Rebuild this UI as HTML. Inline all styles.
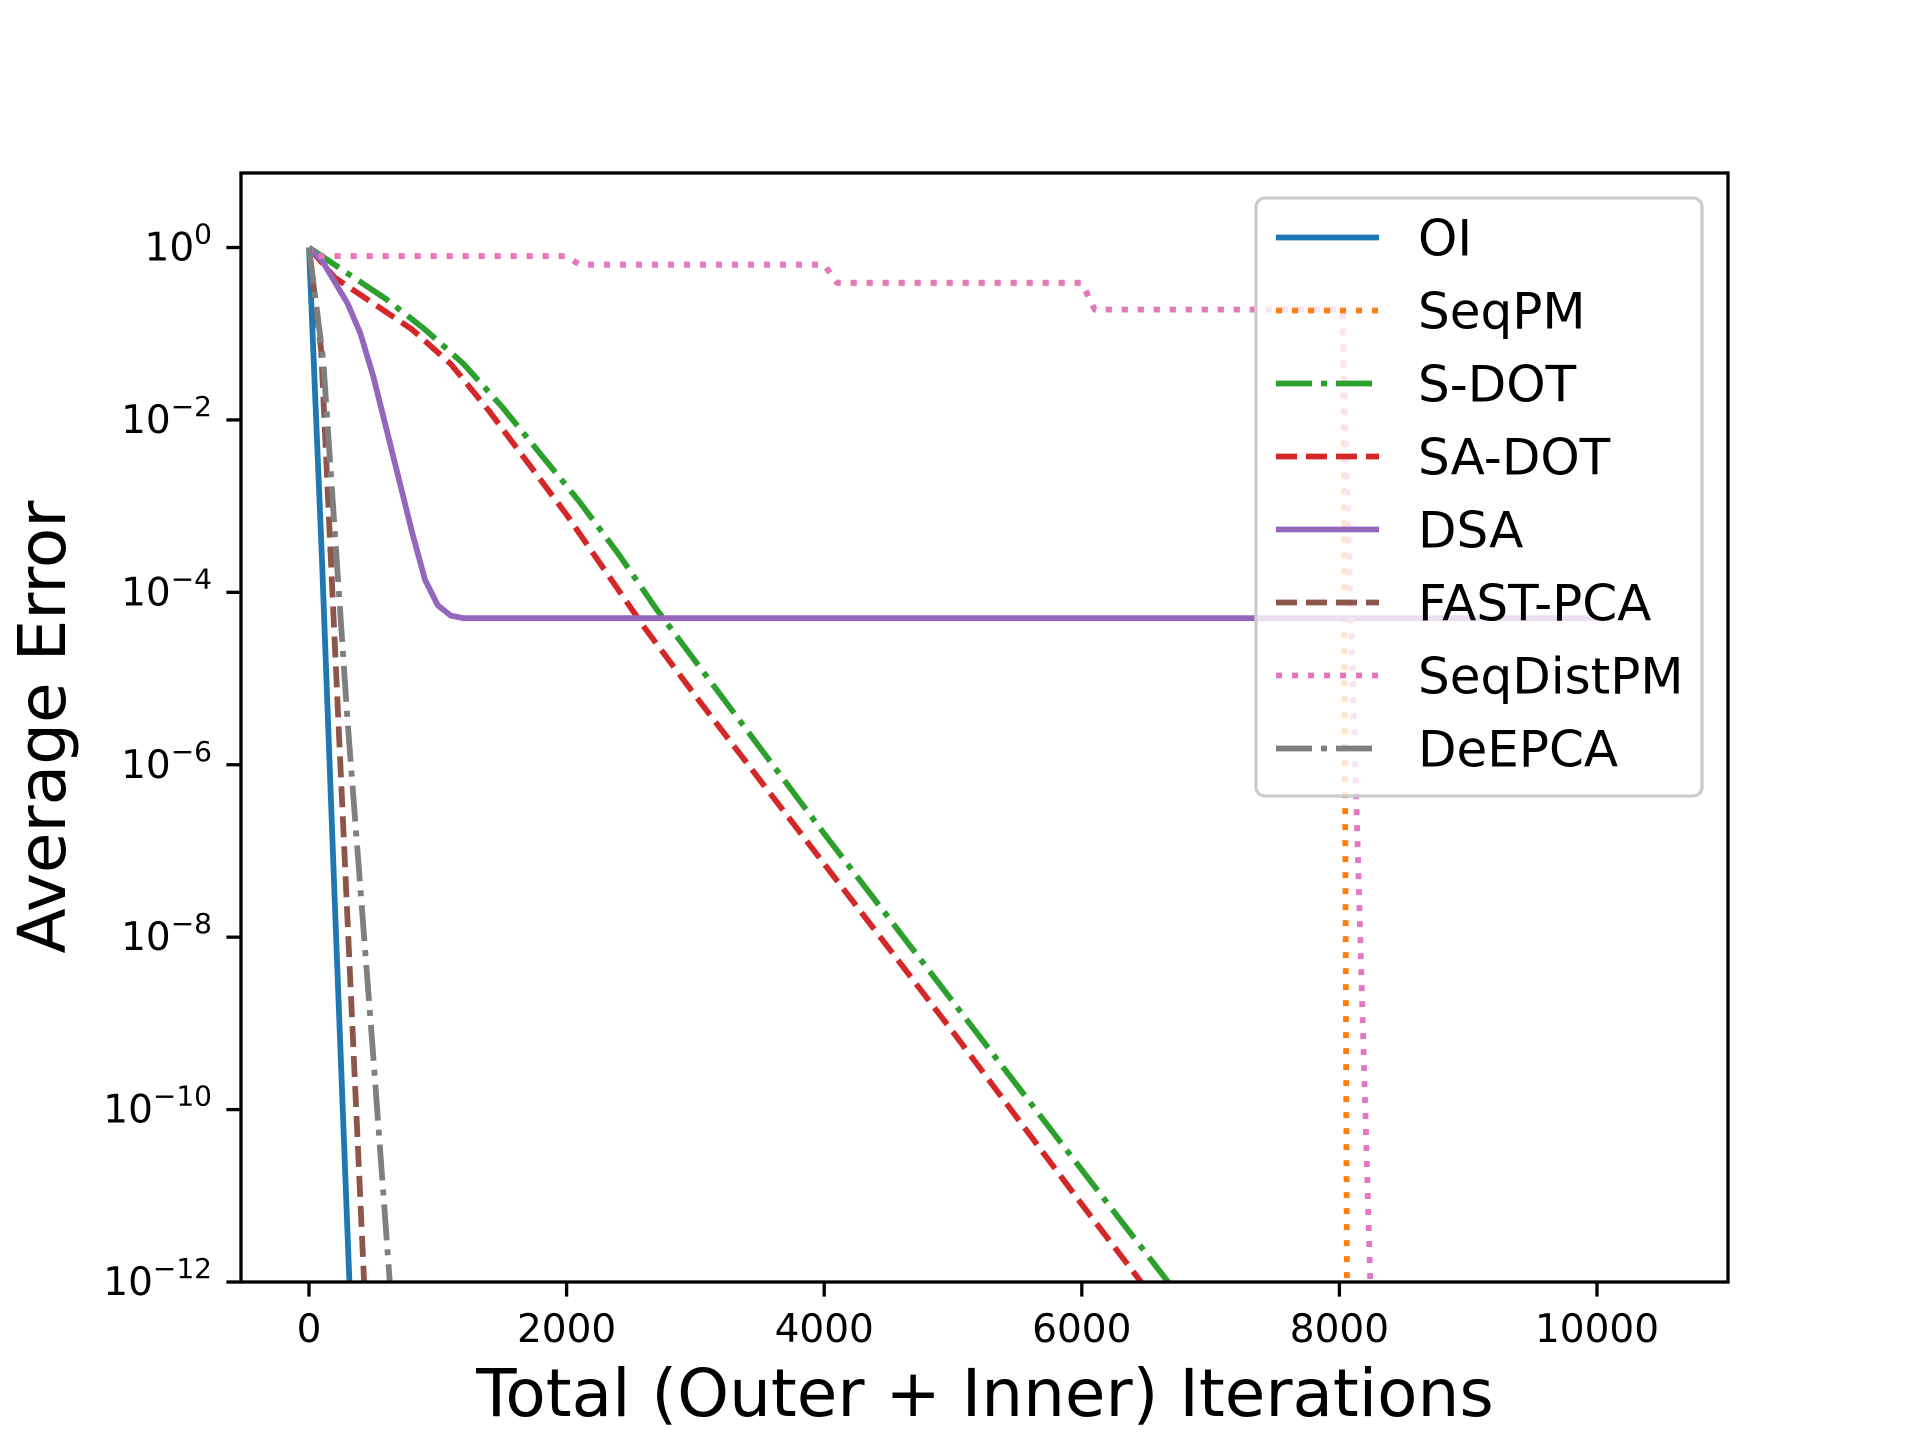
<!DOCTYPE html>
<html><head><meta charset="utf-8"><style>
html,body{margin:0;padding:0;background:#fff;}
svg{display:block;font-family:"DejaVu Sans","Liberation Sans",sans-serif;}
</style></head><body>
<svg id="chart" width="1920" height="1440" viewBox="0 0 1920 1440" xmlns="http://www.w3.org/2000/svg">
<rect width="1920" height="1440" fill="#fff"/>
<g id="plot" clip-path="url(#clip)"></g>
<defs><clipPath id="clip"><rect x="241" y="173" width="1487" height="1109"/></clipPath></defs>
<g id="axes"></g>
<g id="legend"></g>
</svg>
<script>
const xTicks = [0, 2000, 4000, 6000, 8000, 10000];
const yTickExps = [0, -2, -4, -6, -8, -10, -12];
const seriesNames = ["OI","SeqPM","S-DOT","SA-DOT","DSA","FAST-PCA","SeqDistPM","DeEPCA"];
const oiX = [0, 100, 200, 314];
const oiY = [0, -3.6, -7.6, -12];
const seqpmX = [0, 20, 2000, 2100, 4000, 4100, 6000, 6100, 8030, 8060];
const seqpmY = [0, -0.1, -0.1, -0.2, -0.2, -0.41, -0.41, -0.72, -0.72, -12.5];
const sdotX = [0, 300, 600, 900, 1200, 1500, 1800, 2100, 2400, 2700, 3000, 4000, 5000, 6000, 6670];
const sdotY = [0, -0.3, -0.6, -0.95, -1.35, -1.85, -2.4, -2.95, -3.55, -4.2, -4.8, -6.8, -8.75, -10.7, -12];
const sadotX = [0, 200, 500, 800, 1100, 1400, 1700, 2000, 2300, 2600, 3000, 4000, 5000, 6000, 6460];
const sadotY = [0, -0.35, -0.65, -0.95, -1.35, -1.9, -2.5, -3.1, -3.75, -4.4, -5.2, -7.15, -9.1, -11.1, -12];
const dsaX = [0, 100, 200, 300, 400, 500, 600, 700, 800, 900, 1000, 1100, 1200, 10000];
const dsaY = [0, -0.15, -0.4, -0.65, -1.0, -1.5, -2.1, -2.7, -3.3, -3.85, -4.15, -4.27, -4.3, -4.3];
const fastX = [0, 95, 250, 428];
const fastY = [0, -1.2, -6.2, -12];
const seqdistX = [0, 20, 2000, 2100, 4000, 4100, 6000, 6100, 8020, 8240];
const seqdistY = [0, -0.1, -0.1, -0.2, -0.2, -0.41, -0.41, -0.72, -0.72, -12];
const deepcaX = [0, 110, 300, 500, 627];
const deepcaY = [0, -1.3, -5.5, -9.4, -12];

const NS="http://www.w3.org/2000/svg";
const L=241,R=1728,T=173,B=1282;
const xMin=-528, xMax=11017;
const sx=v=>L+(v-xMin)/(xMax-xMin)*(R-L);
const y0=247.5, dec=(B-y0)/12;
const sy=e=>y0-e*dec;
function mk(tag,attrs,parent){const e=document.createElementNS(NS,tag);for(const k in attrs)e.setAttribute(k,attrs[k]);parent.appendChild(e);return e;}
const plot=document.getElementById('plot'), axes=document.getElementById('axes'), leg=document.getElementById('legend');
const lw=5.8;
const styles=[
 {c:"#1f77b4",d:""},{c:"#ff7f0e",d:"6,10"},{c:"#2ca02c",d:"36,9,6,9"},{c:"#d62728",d:"21,9"},
 {c:"#9467bd",d:""},{c:"#8c564b",d:"21,9"},{c:"#e377c2",d:"6,10"},{c:"#7f7f7f",d:"36,9,6,9"}];
const data=[[oiX,oiY],[seqpmX,seqpmY],[sdotX,sdotY],[sadotX,sadotY],[dsaX,dsaY],[fastX,fastY],[seqdistX,seqdistY],[deepcaX,deepcaY]];
const keys=["oi","seqpm","s-dot","sa-dot","dsa","fast-pca","seqdistpm","deepca"];
data.forEach((s,i)=>{
  const pts=s[0].map((x,j)=>sx(x).toFixed(1)+","+sy(s[1][j]).toFixed(1)).join(" ");
  const p=mk('polyline',{points:pts,fill:"none",stroke:styles[i].c,"stroke-width":lw,"stroke-dasharray":styles[i].d,"stroke-linejoin":"round"},plot);
  
  
});
const fr=mk('rect',{x:L,y:T,width:R-L,height:B-T,fill:"none",stroke:"#000","stroke-width":3.3},axes);


xTicks.forEach(v=>{
  const x=sx(v);
  const t=mk('line',{x1:x,x2:x,y1:B,y2:B+14.6,stroke:"#000","stroke-width":3.3},axes);
  
  
  const tx=mk('text',{x:x,y:1342,"font-size":39,"text-anchor":"middle",fill:"#000"},axes);
  tx.textContent=String(v);
  
  
});
yTickExps.forEach(e=>{
  const y=sy(e);
  const t=mk('line',{x1:L-14.6,x2:L,y1:y,y2:y,stroke:"#000","stroke-width":3.3},axes);
  
  
  const tx=mk('text',{x:212,y:y+13,"font-size":39,"text-anchor":"end",fill:"#000"},axes);
  
  
  const a=mk('tspan',{},tx);a.textContent="10";
  const b=mk('tspan',{dy:-17,"font-size":28},tx);b.textContent=(e<0?"\u2212":"")+Math.abs(e);
});
const xl=mk('text',{x:985,y:1416,"font-size":66,"text-anchor":"middle",fill:"#000"},axes);
xl.textContent="Total (Outer + Inner) Iterations";


const yl=mk('text',{x:0,y:0,"font-size":66,"text-anchor":"middle",fill:"#000",transform:"translate(65,727) rotate(-90)"},axes);
yl.textContent="Average Error";


const lb=mk('rect',{x:1256,y:198,width:446,height:598,rx:9,fill:"#fff","fill-opacity":0.8,stroke:"#cccccc","stroke-width":3.3},leg);


seriesNames.forEach((n,i)=>{
  const y=237.5+i*73;
  const g=mk('g',{},leg);
  
  
  mk('line',{x1:1276,x2:1379,y1:y,y2:y,stroke:styles[i].c,"stroke-width":lw,"stroke-dasharray":styles[i].d},g);
  const t=mk('text',{x:1418,y:y+18,"font-size":50,fill:"#000"},g);
  t.textContent=n;
});
</script>
</body></html>
